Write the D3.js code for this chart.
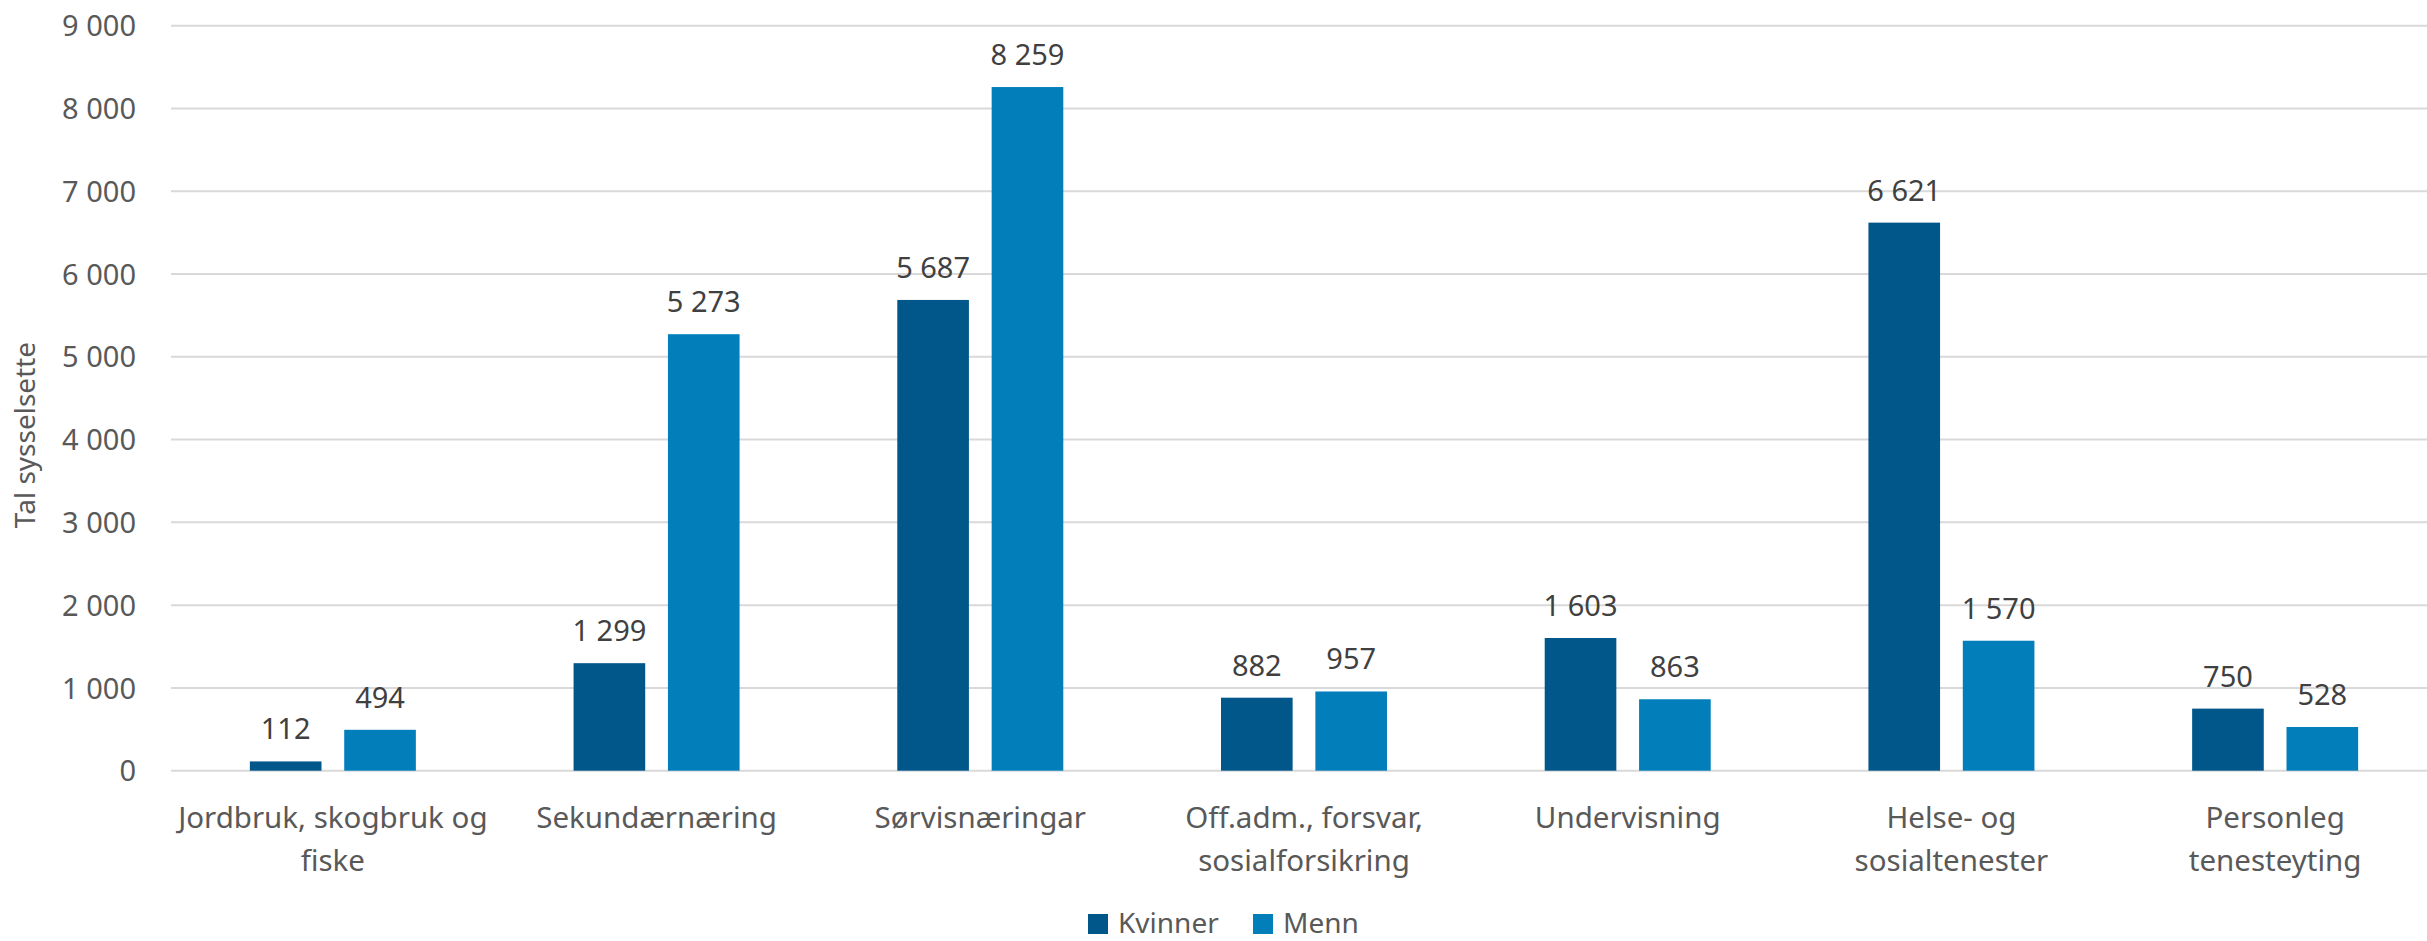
<!DOCTYPE html>
<html>
<head>
<meta charset="utf-8">
<script src="https://cdn.jsdelivr.net/npm/d3@7"></script>
<style>
  html, body { margin: 0; padding: 0; background: #fff; }
  svg { display: block; }
  text { font-family: "Noto Sans", "Open Sans", sans-serif; }
</style>
</head>
<body>
<svg id="chart" width="2427" height="941"></svg>
<script>
const categories = [
  "Jordbruk, skogbruk og\nfiske",
  "Sekundærnæring",
  "Sørvisnæringar",
  "Off.adm., forsvar,\nsosialforsikring",
  "Undervisning",
  "Helse- og\nsosialtenester",
  "Personleg\ntenesteyting"
];
const seriesNames = ["Kvinner", "Menn"];
const kvinner = [112, 1299, 5687, 882, 1603, 6621, 750];
const menn = [494, 5273, 8259, 957, 863, 1570, 528];
const yTicks = [0, 1000, 2000, 3000, 4000, 5000, 6000, 7000, 8000, 9000];
const yTitle = "Tal sysselsette";
const colors = ["#02578A", "#027EBA"];

const svg = d3.select("#chart");
const W = 2427, H = 941;
const plot = { left: 171, right: 2437, top: 25.7, bottom: 770.7 };

const fmt = v => d3.format(",")(v).replace(/,/g, " ");

const x0 = d3.scaleBand().domain(d3.range(categories.length))
  .range([plot.left, plot.right]).paddingInner(0).paddingOuter(0);
const x1 = d3.scaleBand().domain(seriesNames)
  .range([x0.bandwidth() / 2 - 83, x0.bandwidth() / 2 + 83]).paddingInner(20 / 83).paddingOuter(0);
const y = d3.scaleLinear().domain([0, 9000]).range([plot.bottom, plot.top]);

// gridlines + y labels
const yAxis = d3.axisLeft(y).tickValues(yTicks).tickFormat(fmt).tickSize(0).tickPadding(35);
const gy = svg.append("g").attr("transform", `translate(${plot.left},0)`).call(yAxis);
gy.select(".domain").remove();
gy.selectAll("text").attr("fill", "#595959").style("font-size", "29px").attr("dy", "0.35em");
svg.append("g").selectAll("line").data(yTicks).join("line")
  .attr("x1", plot.left).attr("x2", W)
  .attr("y1", d => y(d)).attr("y2", d => y(d))
  .attr("stroke", "#d9d9d9").attr("stroke-width", 2);

// bars
const data = categories.map((c, i) => ({ i, vals: [kvinner[i], menn[i]] }));
const groups = svg.append("g").selectAll("g").data(data).join("g")
  .attr("transform", d => `translate(${x0(d.i)},0)`);
groups.selectAll("rect").data(d => d.vals.map((v, k) => ({ k, v }))).join("rect")
  .attr("x", d => x1(seriesNames[d.k]))
  .attr("width", x1.bandwidth())
  .attr("y", d => y(d.v))
  .attr("height", d => y(0) - y(d.v))
  .attr("fill", d => colors[d.k]);
groups.selectAll("text.val").data(d => d.vals.map((v, k) => ({ k, v }))).join("text")
  .attr("class", "val")
  .attr("x", d => x1(seriesNames[d.k]) + x1.bandwidth() / 2)
  .attr("y", d => y(d.v) - 22)
  .attr("text-anchor", "middle")
  .attr("fill", "#404040")
  .style("font-size", "29px")
  .text(d => fmt(d.v));

// x labels
const xl = svg.append("g").selectAll("text").data(categories).join("text")
  .attr("x", (d, i) => x0(i) + x0.bandwidth() / 2)
  .attr("y", 828)
  .attr("text-anchor", "middle")
  .attr("fill", "#595959")
  .style("font-size", "29.5px");
xl.selectAll("tspan").data(d => d.split("\n")).join("tspan")
  .attr("x", function () { return this.parentNode.getAttribute("x"); })
  .attr("dy", (d, j) => j === 0 ? 0 : 43)
  .text(d => d);

// y title
svg.append("text")
  .attr("transform", "translate(35,435) rotate(-90)")
  .attr("text-anchor", "middle")
  .attr("fill", "#595959")
  .style("font-size", "28px")
  .text(yTitle);

// legend
const legendX = [1088, 1253];
const lg = svg.append("g").selectAll("g").data(seriesNames).join("g")
  .attr("transform", (d, i) => `translate(${legendX[i]},914)`);
lg.append("rect").attr("width", 20).attr("height", 20).attr("fill", (d, i) => colors[i]);
lg.append("text").attr("x", 30).attr("y", 19)
  .attr("fill", "#595959").style("font-size", "28px").text(d => d);
</script>
</body>
</html>
